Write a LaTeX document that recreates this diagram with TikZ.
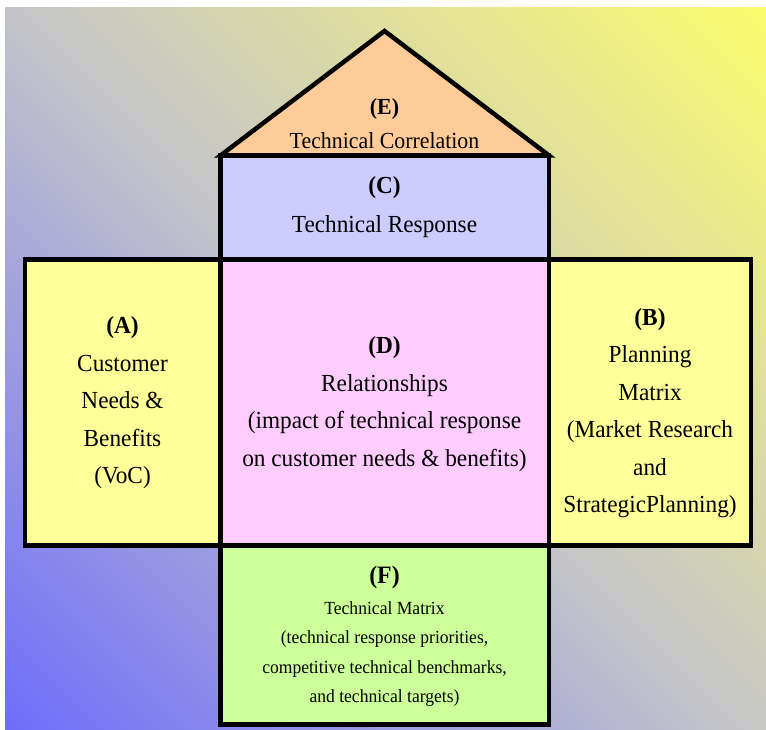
\documentclass[tikz,border=0pt]{standalone}
\usepackage{fontspec}
\setmainfont{Liberation Serif}[FakeStretch=0.95]

% background gradient colours
\definecolor{bgblue}{RGB}{108,108,252}
\definecolor{bggray}{RGB}{198,198,200}
\definecolor{bgyellow}{RGB}{252,252,108}
% room colours
\definecolor{roofpeach}{RGB}{255,204,153}
\definecolor{respblue}{RGB}{204,204,255}
\definecolor{sideyellow}{RGB}{255,255,153}
\definecolor{relpink}{RGB}{255,204,255}
\definecolor{matgreen}{RGB}{204,255,153}

\pgfdeclareverticalshading{qfdbg}{100bp}{color(0bp)=(bgblue); color(14bp)=(bgblue); color(50bp)=(bggray); color(86bp)=(bgyellow); color(100bp)=(bgyellow)}

\begin{document}
\begin{tikzpicture}[x=1pt,y=-1pt,
  room/.style={draw=black, line width=4.5pt, line join=miter},
  lbl/.style={align=center, inner sep=0pt, text=black,
              font=\fontsize{24.5}{37.5}\selectfont},
  smalllbl/.style={align=center, inner sep=0pt, text=black,
              font=\fontsize{18.5}{29.5}\selectfont}]

\useasboundingbox (0,0) rectangle (766,730);
\fill[white] (0,0) rectangle (766,730);
\shade[shading=qfdbg, shading angle=-45] (5,8) rectangle (766,730);

% the house of quality
\filldraw[room, fill=sideyellow] (25,259.5) rectangle (220.5,545.5);
\filldraw[room, fill=sideyellow] (549,259.5) rectangle (751,545.5);
\filldraw[room, fill=relpink] (220.5,259.5) rectangle (549,545.5);
\filldraw[room, fill=respblue] (220.5,155.5) rectangle (549,259.5);
\filldraw[room, fill=matgreen] (220.5,545.5) rectangle (549,724.5);
\filldraw[room, fill=roofpeach] (220.5,155.5) -- (384.5,31) -- (549,155.5) -- cycle;

% labels
\node[lbl, font=\fontsize{23}{34}\selectfont] (tE) at (384.5,124)
  {\textbf{(E)}\\Technical Correlation};
\node[lbl, font=\fontsize{24.5}{39}\selectfont] (tC) at (384.5,207.5)
  {\textbf{(C)}\\Technical Response};
\node[lbl] (tA) at (122.5,403)
  {\textbf{(A)}\\Customer\\Needs \&\\Benefits\\(VoC)};
\node[lbl] (tD) at (384.5,404)
  {\textbf{(D)}\\Relationships\\(impact of technical response\\on customer needs \& benefits)};
\node[lbl] (tB) at (650,413)
  {\textbf{(B)}\\Planning\\Matrix\\(Market Research\\and\\StrategicPlanning)};
\node[lbl, font=\fontsize{25}{30}\selectfont\bfseries] (tF) at (384.5,577) {(F)};
\node[smalllbl] (tFtext) at (384.5,654)
  {Technical Matrix\\(technical response priorities,\\competitive technical benchmarks,\\and technical targets)};
\end{tikzpicture}
\end{document}
